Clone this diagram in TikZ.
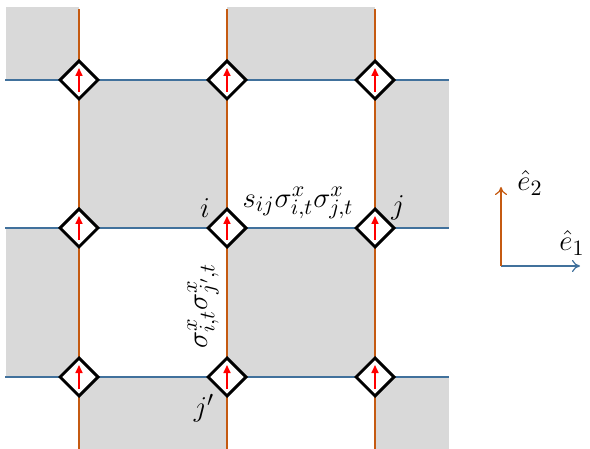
\documentclass[tikz,border=0pt]{standalone}
\usetikzlibrary{shapes.geometric,arrows.meta}
\definecolor{bondorange}{RGB}{197,90,17}
\definecolor{bondblue}{RGB}{65,113,156}
\definecolor{plaqgray}{RGB}{217,217,217}
\begin{document}
\begin{tikzpicture}[
  x = 0.5pt, y = -0.5pt,
  every node/.style = {font = \fontsize{15}{17}\selectfont, inner sep = 1pt},
  site/.style = {draw, diamond, fill = white, line width = 1.5pt,
                 minimum width = 19.5pt, minimum height = 19.5pt, inner sep = 0pt},
  spin/.style = {red, line width = 0.8pt, -{Triangle[length = 4pt, width = 3.5pt]}},
  hbond/.style = {bondblue, line width = 0.6pt},
  vbond/.style = {bondorange, line width = 0.6pt}
  ]
  \useasboundingbox (0,0) rectangle (590,449);
  % plaquettes
  \fill[plaqgray] (6,7) rectangle (79,80);
  \fill[plaqgray] (227,7) rectangle (375,80);
  \fill[plaqgray] (79,80) rectangle (227,228);
  \fill[plaqgray] (375,80) rectangle (449,228);
  \fill[plaqgray] (6,228) rectangle (79,377);
  \fill[plaqgray] (227,228) rectangle (375,377);
  \fill[plaqgray] (79,377) rectangle (227,449);
  \fill[plaqgray] (375,377) rectangle (449,449);
  % bonds
  \foreach \r/\y in {1/80, 2/228, 3/377} {
    \coordinate (w\r) at (5,\y);
    \coordinate (e\r) at (449,\y);
    \draw[hbond] (w\r) -- (e\r);
  }
  \foreach \c/\x in {1/79, 2/227, 3/375} {
    \coordinate (n\c) at (\x,9);
    \coordinate (s\c) at (\x,449);
    \draw[vbond] (n\c) -- (s\c);
  }
  % sites
  \foreach \r/\y in {1/80, 2/228, 3/377} {
    \foreach \c/\x in {1/79, 2/227, 3/375} {
      \node[site] (v\r\c) at (\x,\y) {};
      \draw[spin] ([yshift = -6pt]v\r\c.center) -- ([yshift = 6pt]v\r\c.center);
    }
  }
  % labels
  \node (i) at (205,208) {$i$};
  \node (j) at (398,208) {$j$};
  \node (jp) at (204,408) {$j'$};
  \node (hterm) at (298,203) {$s_{ij}\sigma^x_{i,t}\sigma^x_{j,t}$};
  \node[rotate = 90] (vterm) at (203,306) {$\sigma^x_{i,t}\sigma^x_{j',t}$};
  % axes
  \coordinate (o) at (501,266);
  \coordinate (a1) at (580,266);
  \coordinate (a2) at (501,187);
  \draw[hbond, -{To[length = 4pt, width = 6pt]}] (o) -- (a1);
  \draw[vbond, -{To[length = 4pt, width = 6pt]}] (o) -- (a2);
  \node (e1) at (572,243) {$\hat{e}_1$};
  \node (e2) at (530,183) {$\hat{e}_2$};
\end{tikzpicture}
\end{document}
